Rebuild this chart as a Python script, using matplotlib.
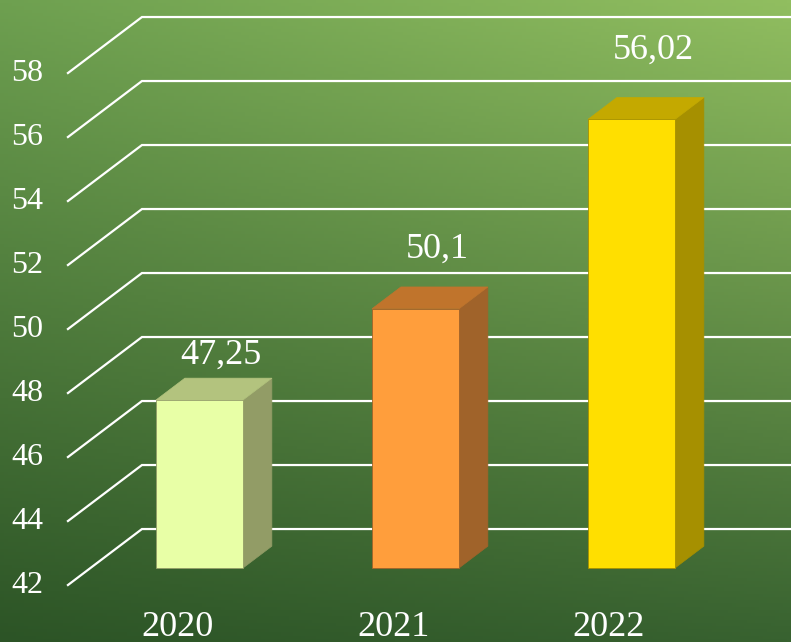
import numpy as np
import matplotlib.pyplot as plt
from matplotlib.patches import Polygon, Rectangle

years = ['2020', '2021', '2022']
values = [47.25, 50.1, 56.02]
value_labels = ['47,25', '50,1', '56,02']
yticks = [42, 44, 46, 48, 50, 52, 54, 56, 58]

front_colors = ['#e8ffa6', '#ff9e3c', '#ffdf00']
top_colors = ['#b3c37e', '#c0742c', '#c4a900']
side_colors = ['#929c66', '#a0632a', '#a69000']

base = 42
bar_w = 87 / 216
# full depth of the chart (x in category units, y in value units)
DX, DY = 74 / 216, 56 / 32
front_f, bar_f = 0.304, 0.39      # fractions of depth
bdx, bdy = DX * bar_f, DY * bar_f
fdx, fdy = -DX * front_f, -DY * front_f          # front grid plane
kdx, kdy = DX * (1 - front_f), DY * (1 - front_f)  # back grid plane
x_front_left = -0.609

fig = plt.figure(figsize=(7.91, 6.42), dpi=100)
ax = fig.add_axes([0, 0, 1, 1])
xmin, xmax = -199.5 / 216, (791 - 199.5) / 216
ymin, ymax = 42 - 74 / 32, 42 + 568 / 32
ax.set_xlim(xmin, xmax)
ax.set_ylim(ymin, ymax)
ax.axis('off')

# background gradient
tl = np.array([110, 160, 80]) / 255
tr = np.array([145, 190, 96]) / 255
bl = np.array([44, 84, 38]) / 255
br = np.array([56, 98, 48]) / 255
u = np.linspace(0, 1, 200)[None, :, None]
v = np.linspace(0, 1, 200)[:, None, None]
grad = (1 - v) * ((1 - u) * tl + u * tr) + v * ((1 - u) * bl + u * br)
ax.imshow(grad, extent=[xmin, xmax, ymin, ymax], origin='upper', aspect='auto', zorder=0)

# grid lines: diagonal on the left wall, horizontal on the back wall
for g in yticks:
    x0, y0 = x_front_left, g + fdy
    x1, y1 = x_front_left + DX, g + kdy
    ax.plot([x0, x1, xmax + 0.1], [y0, y1, y1], color='white', lw=1.6, zorder=1,
            solid_joinstyle='miter')
    ax.text(x0 - 0.115, y0, str(g), ha='right', va='center', color='white',
            fontsize=23, family='Liberation Serif', zorder=5)

label_pad = [1.4, 1.85, 2.15]
for i, (val, lab) in enumerate(zip(values, value_labels)):
    l, r = i - bar_w / 2, i + bar_w / 2
    ax.add_patch(Polygon([(r, base), (r, val), (r + bdx, val + bdy), (r + bdx, base + bdy)],
                         closed=True, facecolor=side_colors[i], edgecolor=side_colors[i], lw=0.5, zorder=2))
    ax.add_patch(Polygon([(l, val), (r, val), (r + bdx, val + bdy), (l + bdx, val + bdy)],
                         closed=True, facecolor=top_colors[i], edgecolor=top_colors[i], lw=0.5, zorder=2))
    ax.add_patch(Rectangle((l, base), bar_w, val - base, facecolor=front_colors[i],
                           edgecolor=side_colors[i], lw=0.6, zorder=3))
    ax.text(i + 0.1, val + label_pad[i], lab, ha='center', va='center', color='white',
            fontsize=26, family='Liberation Serif', zorder=5)
    ax.text(i + fdx, 40.15, years[i], ha='center', va='center', color='white',
            fontsize=26, family='Liberation Serif', zorder=5)

fig.savefig('out.png', dpi=100)
